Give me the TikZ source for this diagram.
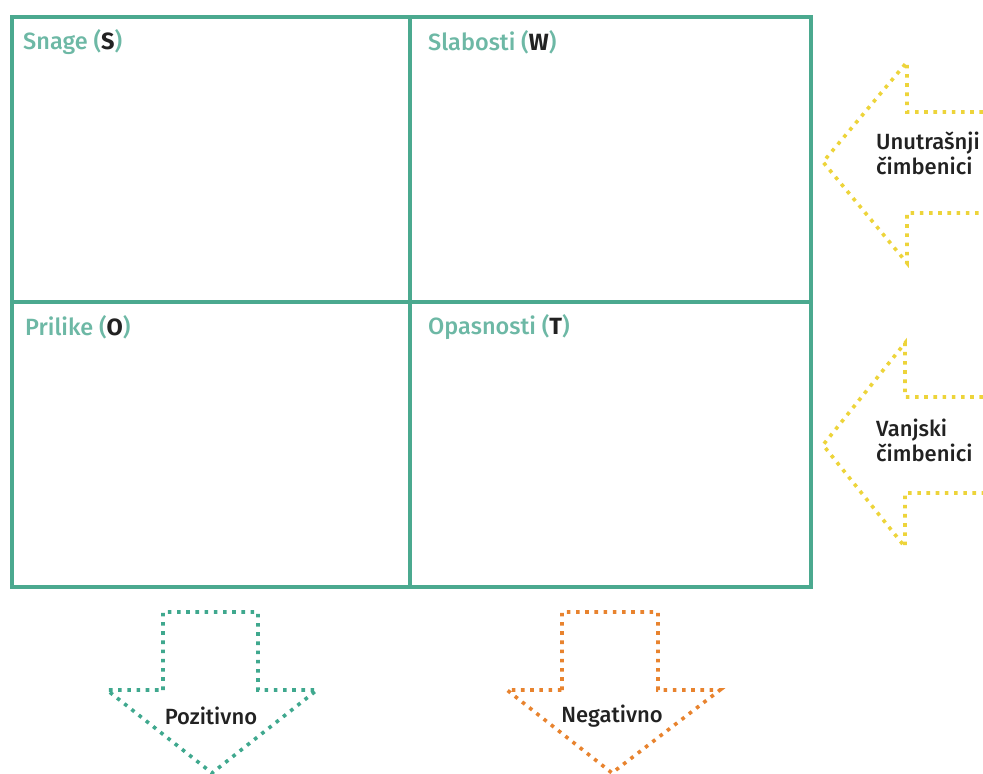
\documentclass[tikz,border=0pt]{standalone}
\usepackage{fontspec}
\setmainfont{Fira Sans}[UprightFont={* Medium}, BoldFont={* Bold}]
\definecolor{gridteal}{HTML}{4BA98F}
\definecolor{labteal}{HTML}{6DB8A5}
\definecolor{dotteal}{HTML}{3FA88E}
\definecolor{dotorange}{HTML}{E8832E}
\definecolor{dotyellow}{HTML}{EDD43A}
\definecolor{txt}{HTML}{222222}
\tikzset{
  gridline/.style={draw=gridteal, line width=4.5},
  dotarrow/.style={line width=3.6, dash pattern=on 3.6 off 5.6, line join=miter},
  quadlabel/.style={anchor=west, inner sep=0, text=labteal, font=\fontsize{23.5}{27}\selectfont},
  arrlabel/.style={inner sep=0, text=txt, font=\fontsize{22}{25}\selectfont},
}
\begin{document}
\begin{tikzpicture}[x=1pt,y=-1pt]
\useasboundingbox (0,0) rectangle (983,774);
% grid
\draw[gridline] (12,17) rectangle (811,587);
\draw[gridline] (410,17) -- (410,587);
\draw[gridline] (12,302) -- (811,302);
% quadrant labels
\node[quadlabel] (s) at (23,42) {Snage (\textcolor{txt}{\textbf{S}})};
\node[quadlabel] (w) at (428,42) {Slabosti (\textcolor{txt}{\textbf{W}})};
\node[quadlabel] (o) at (25,327) {Prilike (\textcolor{txt}{\textbf{O}})};
\node[quadlabel] (t) at (428,327) {Opasnosti (\textcolor{txt}{\textbf{T}})};
% right arrows
\draw[dotarrow, draw=dotyellow] (983,112) -- (907,112) -- (907,62) -- (823,162) -- (907,263) -- (907,213) -- (983,213);
\draw[dotarrow, draw=dotyellow] (983,397) -- (905,397) -- (905,343) -- (823,445) -- (905,547) -- (905,493) -- (983,493);
\node[arrlabel, anchor=west, align=left] (int) at (876,153) {Unutrašnji\\čimbenici};
\node[arrlabel, anchor=west, align=left] (ext) at (876,440) {Vanjski\\čimbenici};
% bottom arrows
\draw[dotarrow, draw=dotteal] (163,690) -- (163,612) -- (258,612) -- (258,690) -- (317,690) -- (212,773) -- (107,690) -- cycle;
\draw[dotarrow, draw=dotorange] (562,690) -- (562,612) -- (658,612) -- (658,690) -- (720,690) -- (612,773) -- (507,690) -- cycle;
\node[arrlabel] (pos) at (211,716) {Pozitivno};
\node[arrlabel] (neg) at (612,716) {Negativno};
\end{tikzpicture}
\end{document}
